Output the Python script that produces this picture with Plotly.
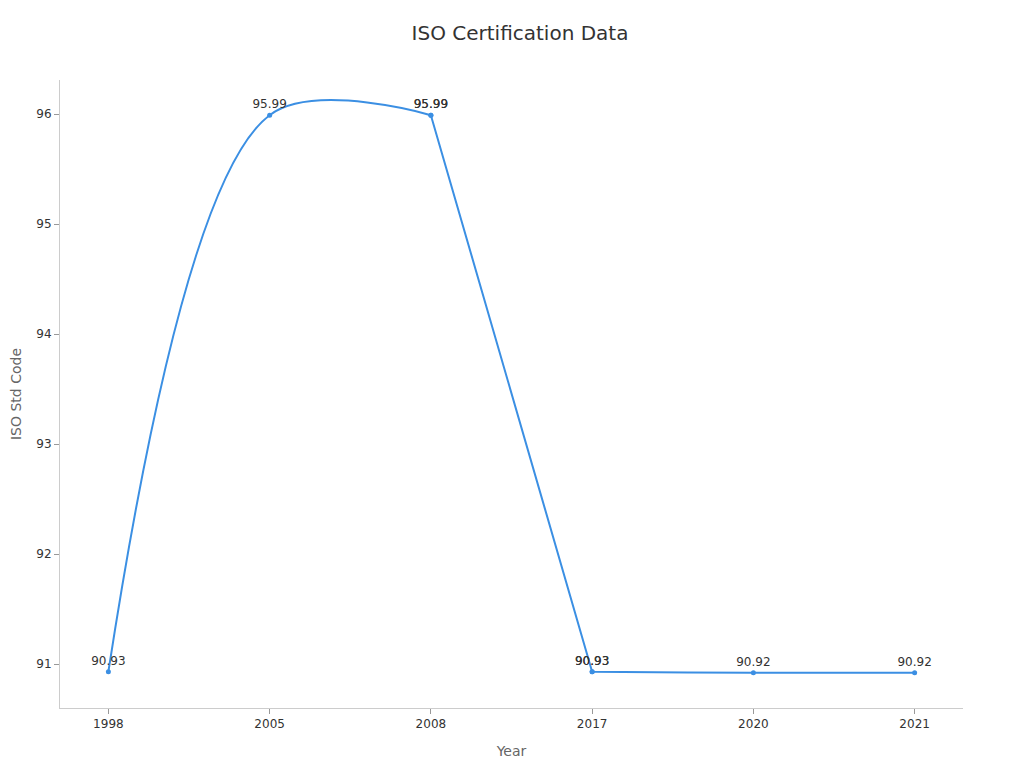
import plotly.graph_objects as go

years = ["1998", "2005", "2008", "2008", "2017", "2017", "2020", "2021"]
values = [90.93, 95.99, 95.99, 95.99, 90.93, 90.93, 90.92, 90.92]
categories = ["1998", "2005", "2008", "2017", "2020", "2021"]

fig = go.Figure()
fig.add_trace(go.Scatter(
    x=years, y=values,
    mode="lines+markers+text",
    line=dict(color="#3b8fe3", width=2, shape="spline", smoothing=1),
    marker=dict(color="#3b8fe3", size=5),
    text=[f"{v:.2f}" for v in values],
    textposition="top center",
    textfont=dict(family="DejaVu Sans", size=12, color="#333333"),
    hoverinfo="x+y",
    showlegend=False,
))

fig.update_layout(
    width=1024, height=768,
    margin=dict(l=52, r=69, t=72, b=68),
    paper_bgcolor="white", plot_bgcolor="white",
    font=dict(family="DejaVu Sans", color="#333333"),
    title=dict(text="ISO Certification Data", x=0.5, xanchor="center", y=0.967, yanchor="middle",
               font=dict(size=20, color="#333333")),
    xaxis=dict(
        type="category", categoryorder="array", categoryarray=categories,
        range=[-0.3, 5.3],
        title=dict(text="Year", font=dict(size=14, color="#666666"), standoff=15),
        showline=True, linecolor="#cccccc", linewidth=1,
        ticks="outside", ticklen=5, tickcolor="#999999",
        showgrid=False, zeroline=False,
        tickfont=dict(size=12, color="#333333"),
    ),
    yaxis=dict(
        range=[90.6, 96.31],
        dtick=1,
        automargin=False,
        title=dict(text="ISO Std Code", font=dict(size=14, color="#666666"), standoff=16),
        showline=True, linecolor="#cccccc", linewidth=1,
        ticks="outside", ticklen=5, tickcolor="#999999",
        showgrid=False, zeroline=False,
        tickfont=dict(size=12, color="#333333"),
    ),
)

fig.write_html("out.html")
